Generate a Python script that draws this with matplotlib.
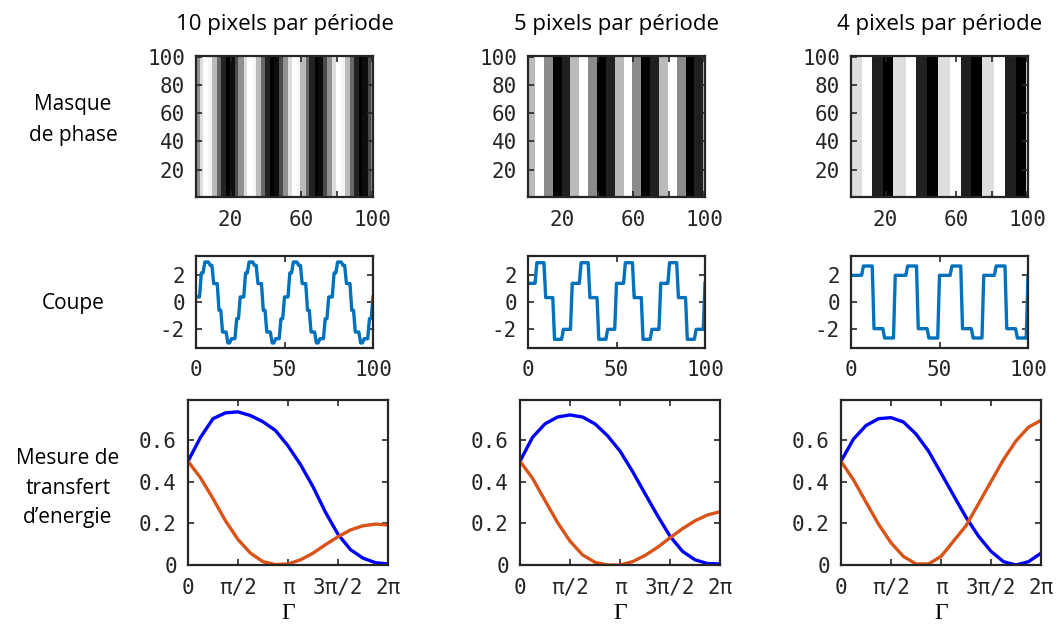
import numpy as np
import matplotlib
matplotlib.use('Agg')
import matplotlib.pyplot as plt

# textes
titles = ['10 pixels par période', '5 pixels par période', '4 pixels par période']
row_labels = ['Masque\nde phase', 'Coupe', 'Mesure de\ntransfert\nd\u2019energie']

levels_10 = [0.38, 2.18, 3.0, 2.75, 1.38, -0.62, -2.25, -3.07, -2.75, -1.25]
levels_5 = [1.4, 2.95, 0.33, -2.8, -2.05]
levels_4 = [2.0, 2.7, -2.0, -2.7]
period_px = 25  # une période = 25 points sur 100

# mesure de transfert d'energie, lue tous les pi/8 de 0 a 2pi
blue_10 = [0.5, 0.615, 0.705, 0.733, 0.738, 0.72, 0.69, 0.648, 0.574, 0.484,
           0.377, 0.254, 0.148, 0.074, 0.033, 0.011, 0.005]
orange_10 = [0.5, 0.42, 0.32, 0.213, 0.123, 0.057, 0.016, 0.002, 0.005, 0.025,
             0.057, 0.098, 0.136, 0.169, 0.189, 0.197, 0.193]
blue_5 = [0.5, 0.615, 0.68, 0.713, 0.723, 0.713, 0.68, 0.623, 0.549, 0.451,
          0.344, 0.238, 0.139, 0.066, 0.025, 0.007, 0.005]
orange_5 = [0.5, 0.418, 0.311, 0.205, 0.115, 0.049, 0.013, 0.0, 0.0, 0.016,
            0.046, 0.085, 0.131, 0.175, 0.213, 0.241, 0.257]
blue_4 = [0.5, 0.607, 0.672, 0.705, 0.71, 0.689, 0.631, 0.549, 0.443, 0.336,
          0.23, 0.139, 0.066, 0.016, 0.0, 0.016, 0.057]
orange_4 = [0.5, 0.41, 0.303, 0.197, 0.107, 0.041, 0.005, 0.005, 0.041, 0.115,
            0.189, 0.295, 0.402, 0.508, 0.598, 0.664, 0.697]

all_levels = [levels_10, levels_5, levels_4]
all_blue = [blue_10, blue_5, blue_4]
all_orange = [orange_10, orange_5, orange_4]

gamma = np.linspace(0, 2 * np.pi, len(blue_10))
x_coupe = np.arange(0, 101)

# positions des axes en pixels
W, H = 1057.0, 630.0
lefts_top = [196, 528, 851]
lefts_bot = [188, 520, 841]

tick_family = 'DejaVu Sans Mono'
tick_size = 15
label_font = 'Open Sans'

plt.rcParams['axes.unicode_minus'] = False
fig = plt.figure(figsize=(W / 100, H / 100), dpi=100)


def style_axes(ax):
    for s in ax.spines.values():
        s.set_linewidth(1.6)
        s.set_color('#262626')
    ax.tick_params(direction='in', top=True, right=True, length=4, width=1.2,
                   color='#262626', labelcolor='#262626')
    ax.tick_params(axis='x', pad=9)
    ax.tick_params(axis='y', pad=8)
    for lab in ax.get_xticklabels() + ax.get_yticklabels():
        lab.set_fontfamily(tick_family)
        lab.set_fontsize(tick_size)


for c in range(3):
    lev = np.array(all_levels[c])
    n = len(lev)
    step = period_px / n
    # profil echantillonne sur les points entiers
    idx = (np.floor(x_coupe / step).astype(int)) % n
    profile = lev[idx]

    # masque de phase
    ax = fig.add_axes([lefts_top[c] / W, 1 - 197 / H, 177 / W, 141 / H])
    img = np.tile(profile[1:101], (100, 1))
    ax.imshow(img, cmap='gray', aspect='auto', origin='lower',
              extent=[0.5, 100.5, 0.5, 100.5], interpolation='nearest',
              vmin=lev.min(), vmax=lev.max())
    ax.set_xticks([20, 40, 60, 80, 100])
    ax.set_xticklabels(['20', '', '60', '', '100'])
    ax.set_yticks([20, 40, 60, 80, 100])
    style_axes(ax)
    ax.set_title(titles[c], fontfamily=label_font, fontsize=16, pad=19)

    # coupe
    ax = fig.add_axes([lefts_top[c] / W, 1 - 348 / H, 177 / W, 92 / H])
    ax.plot(x_coupe, profile, color='#0072BD', lw=2.4)
    ax.set_xlim(0, 100)
    ax.set_ylim(-3.45, 3.45)
    ax.set_xticks([0, 50, 100])
    ax.set_yticks([-2, 0, 2])
    style_axes(ax)

    # transfert d'energie
    ax = fig.add_axes([lefts_bot[c] / W, 1 - 565 / H, 200 / W, 165 / H])
    ax.plot(gamma, all_blue[c], color='#0000FF', lw=2.4)
    ax.plot(gamma, all_orange[c], color='#D95319', lw=2.4)
    ax.set_xlim(0, 2 * np.pi)
    ax.set_ylim(0, 0.795)
    ax.set_xticks([0, np.pi / 2, np.pi, 3 * np.pi / 2, 2 * np.pi])
    ax.set_xticklabels(['0', '\u03c0/2', '\u03c0', '3\u03c0/2', '2\u03c0'])
    ax.set_yticks([0, 0.2, 0.4, 0.6])
    ax.set_yticklabels(['0', '0.2', '0.4', '0.6'])
    style_axes(ax)
    ax.set_xlabel('\u0393', fontfamily='Liberation Serif', fontsize=17, labelpad=4)

# etiquettes de lignes
fig.text(73 / W, 1 - 120 / H, row_labels[0], ha='center', va='center',
         fontfamily=label_font, fontsize=15, linespacing=1.6)
fig.text(73 / W, 1 - 303 / H, row_labels[1], ha='center', va='center',
         fontfamily=label_font, fontsize=15)
fig.text(68 / W, 1 - 488 / H, row_labels[2], ha='center', va='center',
         fontfamily=label_font, fontsize=15, linespacing=1.5)

fig.savefig('out.png', dpi=100)
